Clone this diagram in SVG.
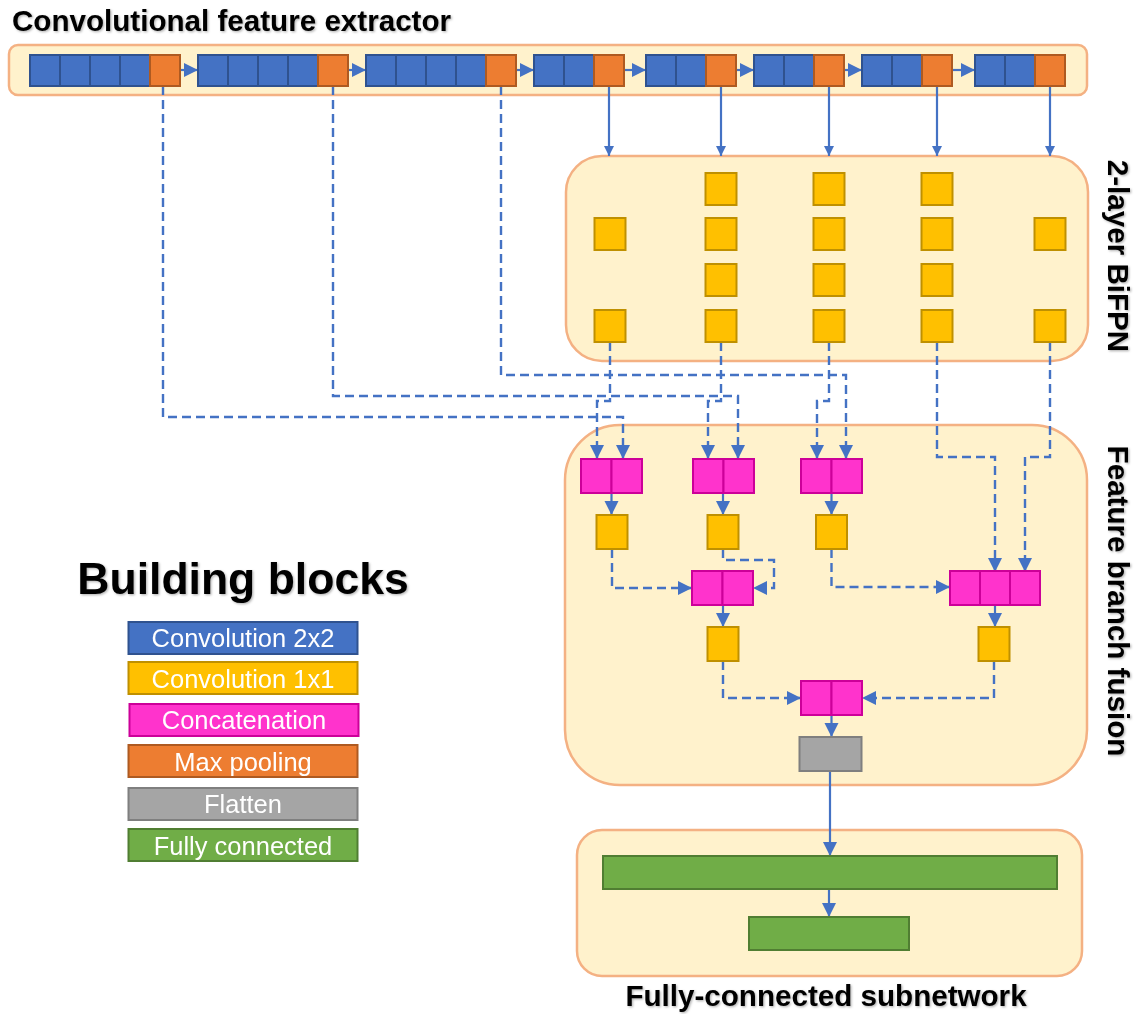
<svg xmlns="http://www.w3.org/2000/svg" width="1137" height="1014" viewBox="0 0 1137 1014">
<style>
.cont{fill:#FFF2CC;stroke:#F4B183;stroke-width:2.5}
.blue{fill:#4472C4;stroke:#2F528F;stroke-width:2}
.pool{fill:#ED7D31;stroke:#AE5A21;stroke-width:2}
.yel{fill:#FFC000;stroke:#BF9000;stroke-width:2}
.cat{fill:#FF33CC;stroke:#CC0099;stroke-width:2}
.gray{fill:#A5A5A5;stroke:#7F7F7F;stroke-width:2}
.green{fill:#70AD47;stroke:#507E32;stroke-width:2}
.c{fill:none;stroke:#4472C4;stroke-width:2.2}
.d{fill:none;stroke:#4472C4;stroke-width:2.4;stroke-dasharray:9 5}
.title{font-family:"Liberation Sans",Arial,sans-serif;font-weight:bold;font-size:29.6px;fill:#000}
.leg{font-family:"Liberation Sans",Arial,sans-serif;font-size:25.5px;fill:#fff;text-anchor:middle}
</style>
<defs>
<marker id="ah" markerUnits="userSpaceOnUse" markerWidth="15" markerHeight="15" refX="14" refY="7" orient="auto">
<path d="M0,0 L14,7 L0,14 z" fill="#4472C4"/>
</marker>
<marker id="ahs" markerUnits="userSpaceOnUse" markerWidth="11" markerHeight="11" refX="10" refY="5" orient="auto">
<path d="M0,0 L10,5 L0,10 z" fill="#4472C4"/>
</marker>
<filter id="sh" x="-5%" y="-20%" width="110%" height="150%">
<feDropShadow dx="1.2" dy="1.2" stdDeviation="0.8" flood-color="#000" flood-opacity="0.3"/>
</filter>
</defs>

<!-- containers -->
<g id="extractor">
<rect class="cont" x="9" y="45" width="1078" height="50" rx="9"/>
</g>
<g id="bifpn">
<rect class="cont" x="566" y="156" width="522" height="205" rx="36"/>
</g>
<g id="fusion">
<rect class="cont" x="565" y="425" width="522" height="360" rx="55"/>
</g>
<g id="fc-subnetwork">
<rect class="cont" x="577" y="830" width="505" height="146" rx="25"/>
</g>

<!-- titles -->
<g id="titles" filter="url(#sh)">
<text class="title" x="12" y="31">Convolutional feature extractor</text>
<text class="title" x="826" y="1006" text-anchor="middle">Fully-connected subnetwork</text>
<text class="title" transform="translate(1108,256) rotate(90)" text-anchor="middle">2-layer BiFPN</text>
<text class="title" transform="translate(1108,601) rotate(90)" text-anchor="middle">Feature branch fusion</text>
<text class="title" x="243" y="594" text-anchor="middle" style="font-size:44.5px">Building blocks</text>
</g>

<!-- connectors -->
<g id="connectors">
<!-- within extractor -->
<path class="c" d="M180,70 H198" marker-end="url(#ah)"/>
<path class="c" d="M348,70 H366" marker-end="url(#ah)"/>
<path class="c" d="M516,70 H534" marker-end="url(#ah)"/>
<path class="c" d="M624,70 H646" marker-end="url(#ah)"/>
<path class="c" d="M736,70 H754" marker-end="url(#ah)"/>
<path class="c" d="M844,70 H862" marker-end="url(#ah)"/>
<path class="c" d="M952,70 H975" marker-end="url(#ah)"/>
<!-- extractor to BiFPN -->
<path class="c" d="M609,86 V156" marker-end="url(#ahs)"/>
<path class="c" d="M721,86 V156" marker-end="url(#ahs)"/>
<path class="c" d="M829,86 V156" marker-end="url(#ahs)"/>
<path class="c" d="M937,86 V156" marker-end="url(#ahs)"/>
<path class="c" d="M1050,86 V156" marker-end="url(#ahs)"/>
<!-- skip connections from pools -->
<path class="d" d="M163,86 V417 H623 V459" marker-end="url(#ah)"/>
<path class="d" d="M333,86 V396 H738 V459" marker-end="url(#ah)"/>
<path class="d" d="M501,86 V375 H846 V459" marker-end="url(#ah)"/>
<!-- BiFPN outputs -->
<path class="d" d="M610,342 V401 H597 V459" marker-end="url(#ah)"/>
<path class="d" d="M721,342 V401 H708 V459" marker-end="url(#ah)"/>
<path class="d" d="M829,342 V401 H817 V459" marker-end="url(#ah)"/>
<path class="d" d="M937,342 V457 H995 V572" marker-end="url(#ah)"/>
<path class="d" d="M1050,342 V457 H1025 V572" marker-end="url(#ah)"/>
<!-- fusion internals -->
<path class="c" d="M611.5,493 V515" marker-end="url(#ah)"/>
<path class="c" d="M723,493 V515" marker-end="url(#ah)"/>
<path class="c" d="M831.5,493 V515" marker-end="url(#ah)"/>
<path class="d" d="M612,549 V588 H692" marker-end="url(#ah)"/>
<path class="d" d="M723,549 V560 H774 V588 H753" marker-end="url(#ah)"/>
<path class="d" d="M831.5,549 V587 H950" marker-end="url(#ah)"/>
<path class="c" d="M723,605 V627" marker-end="url(#ah)"/>
<path class="c" d="M995,605 V627" marker-end="url(#ah)"/>
<path class="d" d="M723,661 V698 H801" marker-end="url(#ah)"/>
<path class="d" d="M994,661 V698 H862" marker-end="url(#ah)"/>
<path class="c" d="M831.5,715 V737" marker-end="url(#ah)"/>
<path class="c" d="M830,771 V856" marker-end="url(#ah)"/>
<path class="c" d="M829,889 V917" marker-end="url(#ah)"/>
</g>

<!-- extractor blocks -->
<g id="extractor-blocks">
<g id="stage1"><rect class="blue" x="30" y="55" width="30" height="31"/><rect class="blue" x="60" y="55" width="30" height="31"/><rect class="blue" x="90" y="55" width="30" height="31"/><rect class="blue" x="120" y="55" width="30" height="31"/><rect class="pool" x="150" y="55" width="30" height="31"/></g>
<g id="stage2"><rect class="blue" x="198" y="55" width="30" height="31"/><rect class="blue" x="228" y="55" width="30" height="31"/><rect class="blue" x="258" y="55" width="30" height="31"/><rect class="blue" x="288" y="55" width="30" height="31"/><rect class="pool" x="318" y="55" width="30" height="31"/></g>
<g id="stage3"><rect class="blue" x="366" y="55" width="30" height="31"/><rect class="blue" x="396" y="55" width="30" height="31"/><rect class="blue" x="426" y="55" width="30" height="31"/><rect class="blue" x="456" y="55" width="30" height="31"/><rect class="pool" x="486" y="55" width="30" height="31"/></g>
<g id="stage4"><rect class="blue" x="534" y="55" width="30" height="31"/><rect class="blue" x="564" y="55" width="30" height="31"/><rect class="pool" x="594" y="55" width="30" height="31"/></g>
<g id="stage5"><rect class="blue" x="646" y="55" width="30" height="31"/><rect class="blue" x="676" y="55" width="30" height="31"/><rect class="pool" x="706" y="55" width="30" height="31"/></g>
<g id="stage6"><rect class="blue" x="754" y="55" width="30" height="31"/><rect class="blue" x="784" y="55" width="30" height="31"/><rect class="pool" x="814" y="55" width="30" height="31"/></g>
<g id="stage7"><rect class="blue" x="862" y="55" width="30" height="31"/><rect class="blue" x="892" y="55" width="30" height="31"/><rect class="pool" x="922" y="55" width="30" height="31"/></g>
<g id="stage8"><rect class="blue" x="975" y="55" width="30" height="31"/><rect class="blue" x="1005" y="55" width="30" height="31"/><rect class="pool" x="1035" y="55" width="30" height="31"/></g>
</g>

<!-- BiFPN nodes -->
<g id="bifpn-nodes">
<g id="b1"><rect class="yel" x="594.5" y="218" width="31" height="32"/><rect class="yel" x="594.5" y="310" width="31" height="32"/></g>
<g id="b2"><rect class="yel" x="705.5" y="173" width="31" height="32"/><rect class="yel" x="705.5" y="218" width="31" height="32"/><rect class="yel" x="705.5" y="264" width="31" height="32"/><rect class="yel" x="705.5" y="310" width="31" height="32"/></g>
<g id="b3"><rect class="yel" x="813.5" y="173" width="31" height="32"/><rect class="yel" x="813.5" y="218" width="31" height="32"/><rect class="yel" x="813.5" y="264" width="31" height="32"/><rect class="yel" x="813.5" y="310" width="31" height="32"/></g>
<g id="b4"><rect class="yel" x="921.5" y="173" width="31" height="32"/><rect class="yel" x="921.5" y="218" width="31" height="32"/><rect class="yel" x="921.5" y="264" width="31" height="32"/><rect class="yel" x="921.5" y="310" width="31" height="32"/></g>
<g id="b5"><rect class="yel" x="1034.5" y="218" width="31" height="32"/><rect class="yel" x="1034.5" y="310" width="31" height="32"/></g>
</g>

<!-- fusion nodes -->
<g id="concat1"><rect class="cat" x="581" y="459" width="30.5" height="34"/><rect class="cat" x="611.5" y="459" width="30.5" height="34"/></g>
<g id="concat2"><rect class="cat" x="693" y="459" width="30.5" height="34"/><rect class="cat" x="723.5" y="459" width="30.5" height="34"/></g>
<g id="concat3"><rect class="cat" x="801" y="459" width="30.5" height="34"/><rect class="cat" x="831.5" y="459" width="30.5" height="34"/></g>
<g id="conv1"><rect class="yel" x="596.5" y="515" width="31" height="34"/></g>
<g id="conv2"><rect class="yel" x="707.5" y="515" width="31" height="34"/></g>
<g id="conv3"><rect class="yel" x="816" y="515" width="31" height="34"/></g>
<g id="concat4"><rect class="cat" x="692" y="571" width="30.5" height="34"/><rect class="cat" x="722.5" y="571" width="30.5" height="34"/></g>
<g id="concat5"><rect class="cat" x="950" y="571" width="30" height="34"/><rect class="cat" x="980" y="571" width="30" height="34"/><rect class="cat" x="1010" y="571" width="30" height="34"/></g>
<g id="conv4"><rect class="yel" x="707.5" y="627" width="31" height="34"/></g>
<g id="conv5"><rect class="yel" x="978.5" y="627" width="31" height="34"/></g>
<g id="concat6"><rect class="cat" x="801" y="681" width="30.5" height="34"/><rect class="cat" x="831.5" y="681" width="30.5" height="34"/></g>
<g id="flatten"><rect class="gray" x="799.5" y="737" width="62" height="34"/></g>

<!-- FC nodes -->
<g id="fc1"><rect class="green" x="603" y="856" width="454" height="33"/></g>
<g id="fc2"><rect class="green" x="749" y="917" width="160" height="33"/></g>

<!-- legend -->
<g id="legend">
<g id="leg-conv2"><rect class="blue" x="128.5" y="622" width="229" height="32"/><text class="leg" x="243" y="647">Convolution 2x2</text></g>
<g id="leg-conv1"><rect class="yel" x="128.5" y="662" width="229" height="32"/><text class="leg" x="243" y="688">Convolution 1x1</text></g>
<g id="leg-concat"><rect class="cat" x="129.5" y="704" width="229" height="32"/><text class="leg" x="244" y="729">Concatenation</text></g>
<g id="leg-pool"><rect class="pool" x="128.5" y="745" width="229" height="32"/><text class="leg" x="243" y="771">Max pooling</text></g>
<g id="leg-flat"><rect class="gray" x="128.5" y="788" width="229" height="32"/><text class="leg" x="243" y="813">Flatten</text></g>
<g id="leg-fc"><rect class="green" x="128.5" y="829" width="229" height="32"/><text class="leg" x="243" y="855">Fully connected</text></g>
</g>
</svg>
